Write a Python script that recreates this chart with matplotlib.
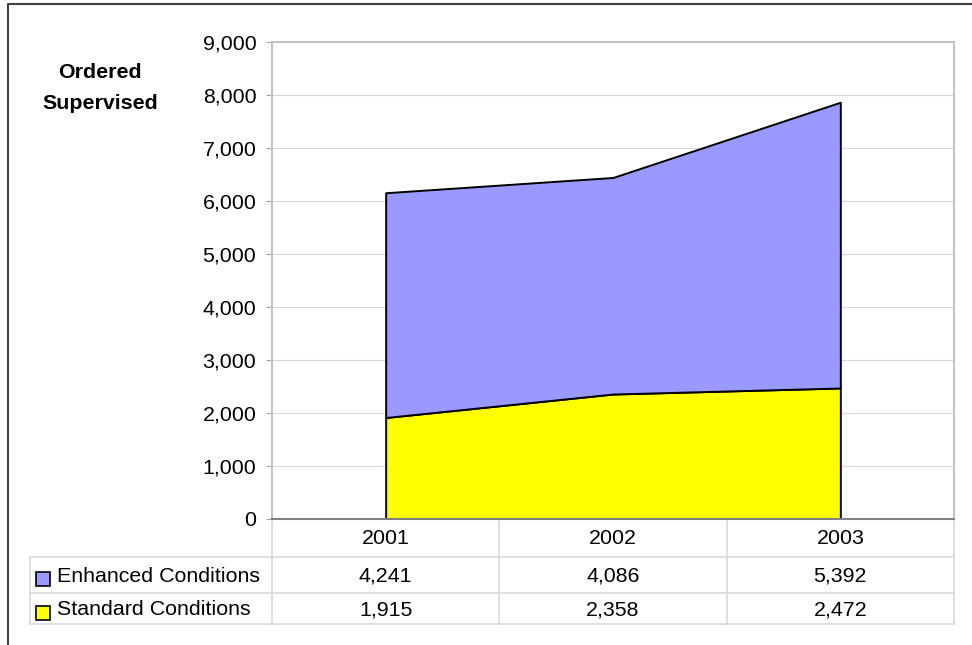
#!/usr/bin/env python3

import matplotlib.pyplot as plt
import matplotlib.transforms as mtransforms
from matplotlib.patches import Rectangle
import numpy as np

plt.rcParams['font.family'] = ['Liberation Sans', 'DejaVu Sans']

years = ['2001', '2002', '2003']
enhanced = [4241, 4086, 5392]
standard = [1915, 2358, 2472]
series_names = ['Enhanced Conditions', 'Standard Conditions']
series_colors = ['#9999ff', '#ffff00']
yticks = list(range(0, 9001, 1000))

W, H = 972, 645
PLOT_L, PLOT_R, PLOT_T, PLOT_B = 272, 954, 42, 519
TABLE_ROWS = [519, 557, 593, 624]
TABLE_LEFT = 30
FS = 15.4
GRID = '#d9d9d9'


def main():
    fig = plt.figure(figsize=(W / 100, H / 100), dpi=100)

    # overlay in pixel units for the frame and the data table
    over = fig.add_axes([0, 0, 1, 1])
    over.set_xlim(0, W)
    over.set_ylim(H, 0)
    over.axis('off')

    ax = fig.add_axes([PLOT_L / W, 1 - PLOT_B / H,
                       (PLOT_R - PLOT_L) / W, (PLOT_B - PLOT_T) / H])
    x = np.arange(len(years))
    total = np.array(standard) + np.array(enhanced)
    ax.fill_between(x, 0, standard, facecolor=series_colors[1],
                    edgecolor='black', lw=1.4)
    ax.fill_between(x, standard, total, facecolor=series_colors[0],
                    edgecolor='black', lw=1.4)
    ax.set_xlim(-0.5, len(years) - 0.5)
    ax.set_ylim(0, 9000)
    ax.set_yticks(yticks)
    ax.set_yticklabels([f'{v:,}' for v in yticks])
    ax.set_xticks([])
    ax.tick_params(axis='y', length=4.3, color='#a0a0a0', labelsize=FS,
                   pad=7)
    ax.set_axisbelow(True)
    ax.yaxis.grid(True, color=GRID, lw=0.8)
    for side in ('top', 'right', 'left'):
        ax.spines[side].set_color('#c0c0c0')
        ax.spines[side].set_linewidth(1.4)
    ax.spines['bottom'].set_color('#808080')
    ax.spines['bottom'].set_linewidth(1.5)

    # outer frame (cut off on the right and bottom)
    over.plot([8, 8, W], [H, 4, 4], color='#404040', lw=1.5)

    over.text(100, 88, 'Ordered\nSupervised', ha='center', va='center',
              multialignment='center', fontsize=FS, fontweight='bold',
              linespacing=1.75)

    # data table
    blend = mtransforms.blended_transform_factory(ax.transData, over.transData)
    for y in TABLE_ROWS[1:]:
        over.plot([TABLE_LEFT, PLOT_R], [y, y], color=GRID, lw=1.2)
    over.plot([TABLE_LEFT, TABLE_LEFT], [TABLE_ROWS[1], TABLE_ROWS[-1]],
              color=GRID, lw=1.2)
    for b in np.arange(len(years) + 1) - 0.5:
        over.plot([b, b], [TABLE_ROWS[0], TABLE_ROWS[-1]], color=GRID,
                  lw=1.2, transform=blend)

    mid = [(a + b) / 2 for a, b in zip(TABLE_ROWS[:-1], TABLE_ROWS[1:])]
    for i, year in enumerate(years):
        over.text(i, mid[0], year, ha='center', va='center', fontsize=FS,
                  transform=blend)
    for row, (name, color, vals) in enumerate(
            zip(series_names, series_colors, [enhanced, standard])):
        y = mid[row + 1]
        over.add_patch(Rectangle((36, y - 3), 14, 14, facecolor=color,
                                 edgecolor='black', lw=1.2))
        over.text(57, y + 1, name, ha='left', va='center', fontsize=FS)
        for i, v in enumerate(vals):
            over.text(i, y + 1, f'{v:,}', ha='center', va='center',
                      fontsize=FS, transform=blend)

    fig.savefig('out.png', dpi=100)


if __name__ == '__main__':
    main()
